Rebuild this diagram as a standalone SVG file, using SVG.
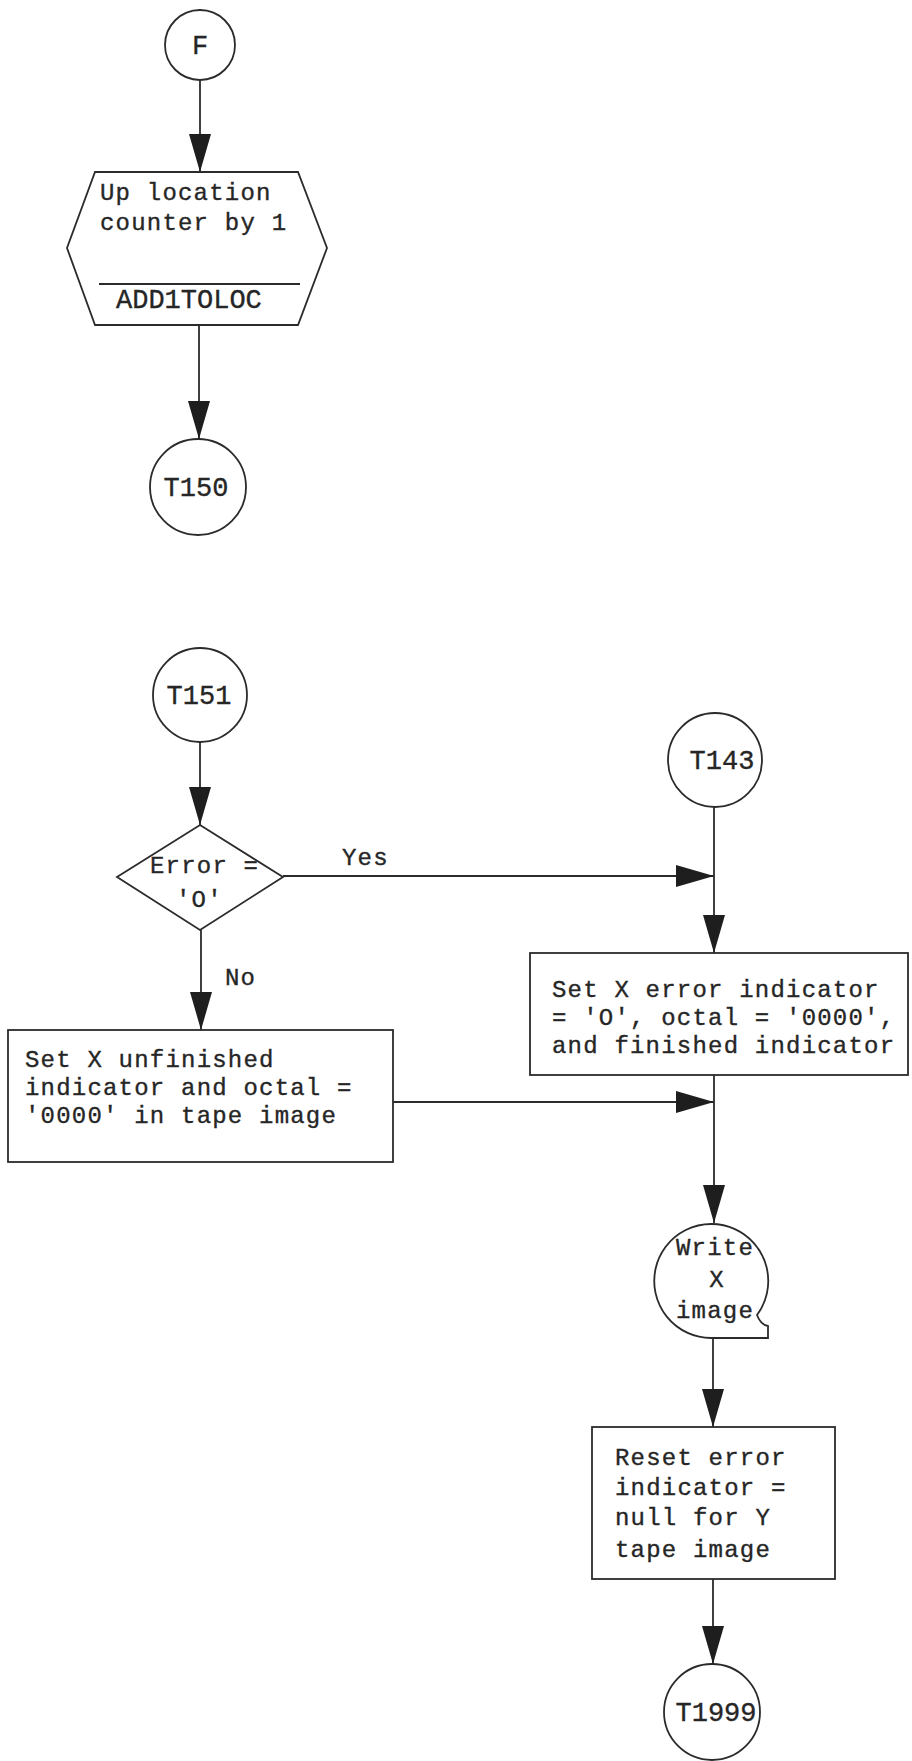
<svg xmlns="http://www.w3.org/2000/svg" width="912" height="1761" viewBox="0 0 912 1761">
<style>
.s{fill:none;stroke:#2b2b2b;stroke-width:1.8}
.b{fill:#fff;stroke:#2b2b2b;stroke-width:1.8}
.t{font-family:"Liberation Mono",monospace;font-size:24px;letter-spacing:1.2px;fill:#262626;stroke:#262626;stroke-width:0.35}
.c{font-family:"Liberation Mono",monospace;font-size:27px;letter-spacing:0px;fill:#262626;stroke:#262626;stroke-width:0.35}
</style>
<defs>
<marker id="ah" markerUnits="userSpaceOnUse" markerWidth="38" markerHeight="22" refX="38" refY="11" orient="auto">
<path d="M0,0 L38,11 L0,22 Z" fill="#1e1e1e"/>
</marker>
</defs>
<rect width="912" height="1761" fill="#fff"/>
<g id="connectors">
<line class="s" x1="200" y1="80" x2="200" y2="172" marker-end="url(#ah)"/>
<line class="s" x1="199" y1="325" x2="199" y2="439" marker-end="url(#ah)"/>
<line class="s" x1="200" y1="742" x2="200" y2="825" marker-end="url(#ah)"/>
<line class="s" x1="283" y1="876" x2="714" y2="876" marker-end="url(#ah)"/>
<line class="s" x1="714" y1="807" x2="714" y2="953" marker-end="url(#ah)"/>
<line class="s" x1="201" y1="930" x2="201" y2="1030" marker-end="url(#ah)"/>
<line class="s" x1="393" y1="1102" x2="714" y2="1102" marker-end="url(#ah)"/>
<line class="s" x1="714" y1="1075" x2="714" y2="1223" marker-end="url(#ah)"/>
<line class="s" x1="713" y1="1338" x2="713" y2="1427" marker-end="url(#ah)"/>
<line class="s" x1="713" y1="1579" x2="713" y2="1664" marker-end="url(#ah)"/>
<text class="t" x="342" y="865">Yes</text>
<text class="t" x="225" y="985">No</text>
</g>
<g id="F">
<circle class="b" cx="200" cy="45" r="35"/>
<text class="c" x="200" y="54" text-anchor="middle" font-size="23">F</text>
</g>
<g id="ADD1TOLOC">
<polygon class="b" points="95,172 298,172 327,248 298,325 95,325 67,248"/>
<text class="t" x="100" y="200">Up location</text>
<text class="t" x="100" y="230">counter by 1</text>
<line class="s" x1="99" y1="284" x2="300" y2="284"/>
<text class="c" x="116" y="308" font-size="25">ADD1TOLOC</text>
</g>
<g id="T150">
<circle class="b" cx="198" cy="487" r="48"/>
<text class="c" x="196" y="496" text-anchor="middle">T150</text>
</g>
<g id="T151">
<circle class="b" cx="200" cy="695" r="47"/>
<text class="c" x="199" y="704" text-anchor="middle">T151</text>
</g>
<g id="decision">
<polygon class="b" points="200,825 283,877 200,930 117,877"/>
<text class="t" x="150" y="873">Error =</text>
<text class="t" x="176" y="907">'O'</text>
</g>
<g id="T143">
<circle class="b" cx="715" cy="760" r="47"/>
<text class="c" x="722" y="769" text-anchor="middle">T143</text>
</g>
<g id="setFinished">
<rect class="b" x="530" y="953" width="378" height="122"/>
<text class="t" x="552" y="997">Set X error indicator</text>
<text class="t" x="552" y="1025">= 'O', octal = '0000',</text>
<text class="t" x="552" y="1053">and finished indicator</text>
</g>
<g id="setUnfinished">
<rect class="b" x="8" y="1030" width="385" height="132"/>
<text class="t" x="25" y="1067">Set X unfinished</text>
<text class="t" x="25" y="1095">indicator and octal =</text>
<text class="t" x="25" y="1123">'0000' in tape image</text>
</g>
<g id="writeX">
<path class="b" d="M711,1338 A57,57 0 1 1 757,1315 Q761,1325 768,1326 L768,1338 Z"/>
<text class="t" x="715" y="1255" text-anchor="middle">Write</text>
<text class="t" x="717" y="1287" text-anchor="middle">X</text>
<text class="t" x="715" y="1318" text-anchor="middle">image</text>
</g>
<g id="reset">
<rect class="b" x="592" y="1427" width="243" height="152"/>
<text class="t" x="615" y="1465">Reset error</text>
<text class="t" x="615" y="1495">indicator =</text>
<text class="t" x="615" y="1525">null for Y</text>
<text class="t" x="615" y="1557">tape image</text>
</g>
<g id="T1999">
<circle class="b" cx="712" cy="1712" r="48"/>
<text class="c" x="716" y="1721" text-anchor="middle">T1999</text>
</g>
</svg>
